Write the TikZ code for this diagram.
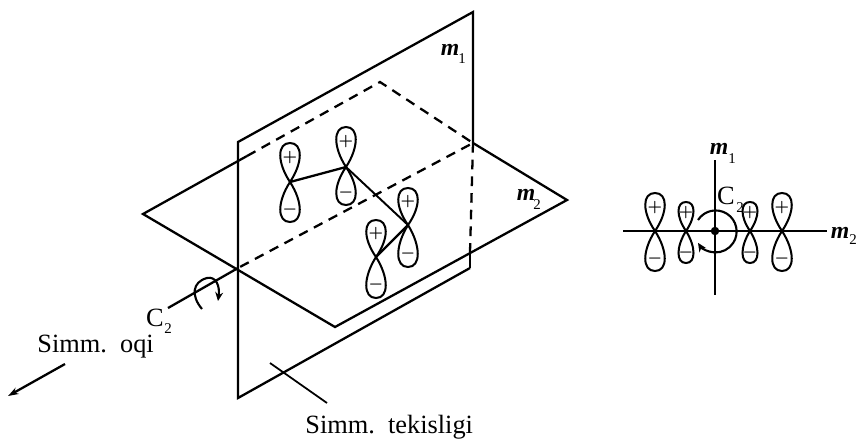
\documentclass[tikz,border=0pt]{standalone}
\usepackage{fontspec}
\setmainfont{Liberation Serif}
\usetikzlibrary{arrows.meta}

\begin{document}
\begin{tikzpicture}[
    x=0.02cm, y=-0.02cm,
    edge/.style={line width=1.3pt},
    hidden/.style={edge, dash pattern=on 5.5pt off 4pt},
    lobe/.style={line width=1.15pt},
    sign/.style={inner sep=0pt, font=\small\boldmath},
    label/.style={inner sep=0pt, font=\fontsize{15}{17}\selectfont},
    axislabel/.style={inner sep=0pt, font=\fontsize{13.5}{15}\selectfont\itshape\bfseries},
    subnum/.style={inner sep=0pt, font=\fontsize{8.5}{10}\selectfont},
    turn/.style={line width=1.2pt, -{Stealth[length=5pt,width=4.5pt]}},
]
\useasboundingbox (0,0) rectangle (858,440);
% plane m1
\coordinate (m1tl) at (238,142);
\coordinate (m1tr) at (473,12);
\coordinate (m1br) at (470,268);
\coordinate (m1bl) at (238,398);
% plane m2
\coordinate (m2l) at (143,214);
\coordinate (m2t) at (380,82);
\coordinate (m2r) at (567,200);
\coordinate (m2b) at (335,327);
\coordinate (hidl) at (247,156);
\coordinate (hidr) at (473,143);
\coordinate (hidf) at (470,252);
\coordinate (axo) at (238,268);
\coordinate (axe) at (168,308);
\draw[edge] (m1br) -- (m1bl) -- (m1tl) -- (m1tr) -- (hidr);
\draw[edge] (hidf) -- (m1br);
\draw[hidden] (hidr) -- (hidf);
\draw[edge] (hidl) -- (m2l) -- (m2b) -- (m2r) -- (hidr);
\draw[hidden] (hidl) -- (m2t) -- (hidr) -- (axo);
\draw[edge] (axo) -- (axe);
% chain
\foreach \n/\x/\y/\t/\b in {a/290/182/39/40, b/346/167/40/38, c/408/225/37/42, d/376/257/37/41} {
  \coordinate (o\n) at (\x,\y);
  \draw[lobe] (o\n) .. controls (\x-13,\y-0.5*\t) and (\x-13,\y-\t) .. (\x,\y-\t) .. controls (\x+13,\y-\t) and (\x+13,\y-0.5*\t) .. (o\n);
  \draw[lobe] (o\n) .. controls (\x-13,\y+0.5*\b) and (\x-13,\y+\b) .. (\x,\y+\b) .. controls (\x+13,\y+\b) and (\x+13,\y+0.5*\b) .. (o\n);
  \node[sign] (p\n) at (\x,\y-0.63*\t) {$+$};
  \node[sign] (n\n) at (\x,\y+0.68*\b) {$-$};
}
\draw[edge] (oa) -- (ob);
\draw[line width=1.1pt] (ob) -- (oc);
\draw[edge] (oc) -- (od);
% axis and rotation
\draw[turn] (202,309) .. controls (191,296) and (192,282) .. (207,278) .. controls (216,276) and (220,286) .. (218,301);
\node[label] (c2) at (155,318) {C};
\node[subnum] (c2s) at (168,329) {2};
\node[label, anchor=west] (oqi) at (37,347) {Simm.\ \ oqi};
\coordinate (oqia) at (65,364);
\coordinate (oqib) at (8,396);
\draw[edge, -{Stealth[length=6pt,width=4pt]}] (oqia) -- (oqib);
\node[label, anchor=west] (tek) at (305,427) {Simm.\ \ tekisligi};
\coordinate (teka) at (270,363);
\coordinate (tekb) at (327,403);
\draw[line width=1pt] (teka) -- (tekb);
\node[axislabel] (m1) at (450,50) {m};
\node[subnum] (m1s) at (462,59) {1};
\node[axislabel] (m2) at (526,195) {m};
\node[subnum] (m2s) at (537,205) {2};
% end view
\coordinate (vl) at (623,231);
\coordinate (vr) at (827,231);
\coordinate (vt) at (715,160);
\coordinate (vb) at (715,295);
\draw[edge] (vl) -- (vr);
\draw[edge] (vt) -- (vb);
\foreach \n/\x/\t/\b/\w in {e/655/38/40/13, f/686/29/32/10, g/750/29/32/10, h/782/38/40/13} {
  \coordinate (o\n) at (\x,231);
  \draw[lobe] (o\n) .. controls (\x-\w,231-0.5*\t) and (\x-\w,231-\t) .. (\x,231-\t) .. controls (\x+\w,231-\t) and (\x+\w,231-0.5*\t) .. (o\n);
  \draw[lobe] (o\n) .. controls (\x-\w,231+0.5*\b) and (\x-\w,231+\b) .. (\x,231+\b) .. controls (\x+\w,231+\b) and (\x+\w,231+0.5*\b) .. (o\n);
  \node[sign] (p\n) at (\x,231-0.63*\t) {$+$};
  \node[sign] (n\n) at (\x,231+0.68*\b) {$-$};
}
\node[circle, fill=black, inner sep=0pt, minimum size=0.17cm] (dot) at (715,231) {};
\draw[turn] (698,220) arc[start angle=147, end angle=-147, x radius=21, y radius=-21];
\node[label] (c2v) at (726,196) {C};
\node[subnum] (c2vs) at (740,208) {2};
\node[axislabel] (v1) at (719,149) {m};
\node[subnum] (v1s) at (732,159) {1};
\node[axislabel] (v2) at (840,233) {m};
\node[subnum] (v2s) at (853,240) {2};
\end{tikzpicture}
\end{document}
